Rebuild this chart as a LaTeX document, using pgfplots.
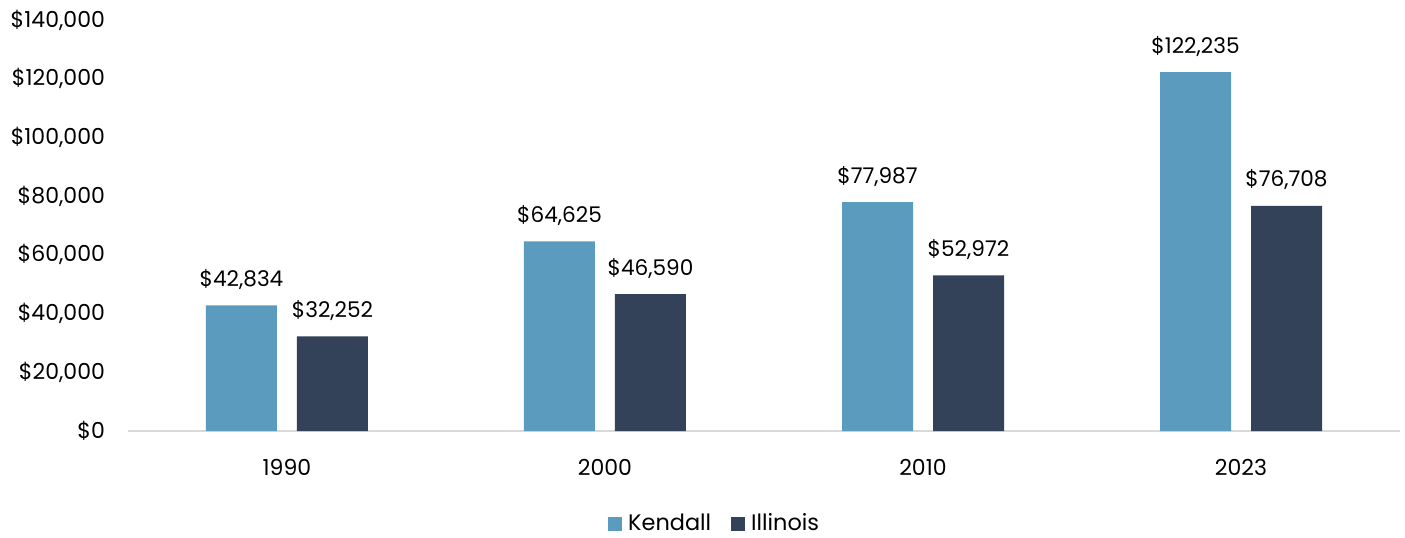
\documentclass[border=0pt]{standalone}
\usepackage{fontspec}
\setmainfont{Poppins}
\usepackage{pgfplots}
\pgfplotsset{compat=1.18}
\definecolor{kend}{HTML}{5A9BBE}
\definecolor{ill}{HTML}{334159}
\definecolor{axgray}{HTML}{D9D9D9}
\begin{document}
\begin{tikzpicture}
\useasboundingbox (-64pt,-53pt) rectangle (638.5pt,215.5pt);
\begin{axis}[
  at={(0,0)}, anchor=south west,
  scale only axis, width=636pt, height=205.5pt,
  xmin=-0.5, xmax=3.5, ymin=0, ymax=140000,
  axis line style={draw=none},
  major tick length=0pt,
  xtick={0,1,2,3}, xticklabels={1990,2000,2010,2023},
  ytick={0,20000,...,140000},
  scaled y ticks=false,
  /pgf/number format/assume math mode=true,
  /pgf/number format/.cd, fixed, precision=0, 1000 sep={,}, /pgfplots/.cd,
  yticklabel={\$\pgfmathprintnumber{\tick}},
  yticklabel style={anchor=east, xshift=-8pt},
  xticklabel style={anchor=base, yshift=-22pt},
  ticklabel style={font=\fontsize{11}{13}\selectfont},
  ybar, bar width=35.5pt,
  nodes near coords={\$\pgfmathprintnumber{\pgfplotspointmeta}},
  every node near coord/.append style={font=\fontsize{10.8}{13}\selectfont, anchor=base, yshift=9.5pt},
  legend style={at={(0.462,-0.226)}, anchor=center, draw=none, legend columns=2,
    font=\fontsize{11.2}{13}\selectfont,
    /tikz/every odd column/.append style={column sep=1pt},
    /tikz/every even column/.append style={column sep=8pt}},
  legend image code/.code={\fill[#1] (0pt,-3.5pt) rectangle (7pt,3.5pt);},
]
\draw[axgray, line width=1pt] (rel axis cs:0,0) -- (rel axis cs:1,0);
\addplot[fill=kend, draw=none, bar shift=-22.75pt] coordinates {(0,42834) (1,64625) (2,77987) (3,122235)};
\addplot[fill=ill, draw=none, bar shift=22.75pt] coordinates {(0,32252) (1,46590) (2,52972) (3,76708)};
\legend{Kendall, Illinois}
\end{axis}
\end{tikzpicture}
\end{document}
